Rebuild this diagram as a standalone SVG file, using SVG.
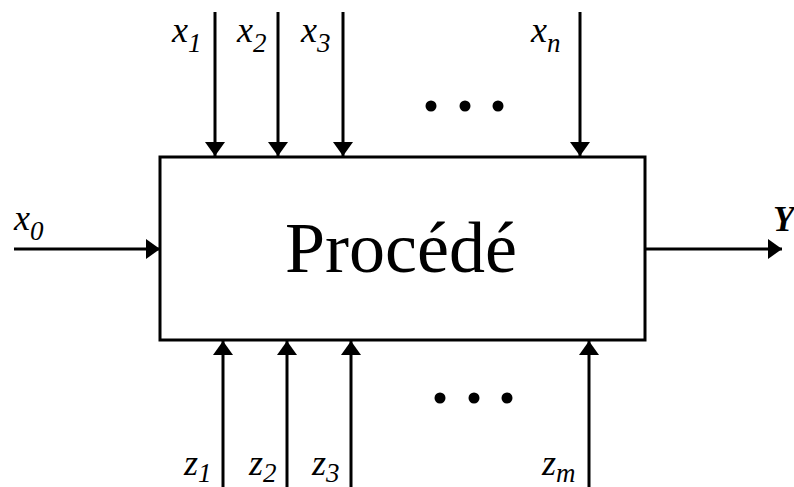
<svg xmlns="http://www.w3.org/2000/svg" width="794" height="487" viewBox="0 0 794 487">
<defs>
<marker id="ah" viewBox="0 0 14 20" refX="14" refY="10" markerWidth="14" markerHeight="20" markerUnits="userSpaceOnUse" orient="auto">
<path d="M0,0 L14,10 L0,20 Z" fill="#000"/>
</marker>
</defs>
<style>
.ln{stroke:#000;stroke-width:3;fill:none;marker-end:url(#ah)}
.t{font-family:"Times New Roman",Times,Tinos,"Noto Serif","FreeSerif","Liberation Serif",serif;fill:#000}
.lb{font-style:italic;font-size:36px}
.sb{font-size:27px}
.dot{fill:#000}
</style>
<rect width="794" height="487" fill="#fff"/>
<g id="connectors">
<line class="ln" x1="215" y1="12" x2="215" y2="156"/>
<line class="ln" x1="278" y1="12" x2="278" y2="156"/>
<line class="ln" x1="343" y1="12" x2="343" y2="156"/>
<line class="ln" x1="580" y1="12" x2="580" y2="156"/>
<line class="ln" x1="223" y1="487" x2="223" y2="341"/>
<line class="ln" x1="287" y1="487" x2="287" y2="341"/>
<line class="ln" x1="351" y1="487" x2="351" y2="341"/>
<line class="ln" x1="589" y1="487" x2="589" y2="341"/>
<line class="ln" x1="14" y1="249" x2="160" y2="249"/>
<line class="ln" x1="645" y1="249" x2="782" y2="249"/>
</g>
<g id="process">
<rect x="160" y="157" width="485" height="183" fill="#fff" stroke="#000" stroke-width="3"/>
<text class="t" x="401" y="272" text-anchor="middle" font-size="72">Procédé</text>
</g>
<g id="inputs-x">
<text class="t lb" x="172" y="42">x<tspan class="sb" dy="10">1</tspan></text>
<text class="t lb" x="237" y="42">x<tspan class="sb" dy="10">2</tspan></text>
<text class="t lb" x="301" y="42">x<tspan class="sb" dy="10">3</tspan></text>
<text class="t lb" x="531" y="42">x<tspan class="sb" dy="10">n</tspan></text>
<text class="t lb" x="14" y="230">x<tspan class="sb" dy="10">0</tspan></text>
</g>
<g id="inputs-z">
<text class="t lb" x="184" y="475">z<tspan class="sb" dy="7">1</tspan></text>
<text class="t lb" x="249" y="475">z<tspan class="sb" dy="7">2</tspan></text>
<text class="t lb" x="312" y="475">z<tspan class="sb" dy="7">3</tspan></text>
<text class="t lb" x="542" y="475">z<tspan class="sb" dy="7">m</tspan></text>
</g>
<g id="output">
<text class="t" x="773" y="231" font-style="italic" font-weight="bold" font-size="35">Y</text>
</g>
<g id="dots-top">
<circle class="dot" cx="431" cy="106" r="5.5"/>
<circle class="dot" cx="465" cy="106" r="5.5"/>
<circle class="dot" cx="498" cy="106" r="5.5"/>
</g>
<g id="dots-bottom">
<circle class="dot" cx="440" cy="398" r="5.5"/>
<circle class="dot" cx="474" cy="398" r="5.5"/>
<circle class="dot" cx="507" cy="398" r="5.5"/>
</g>
</svg>
